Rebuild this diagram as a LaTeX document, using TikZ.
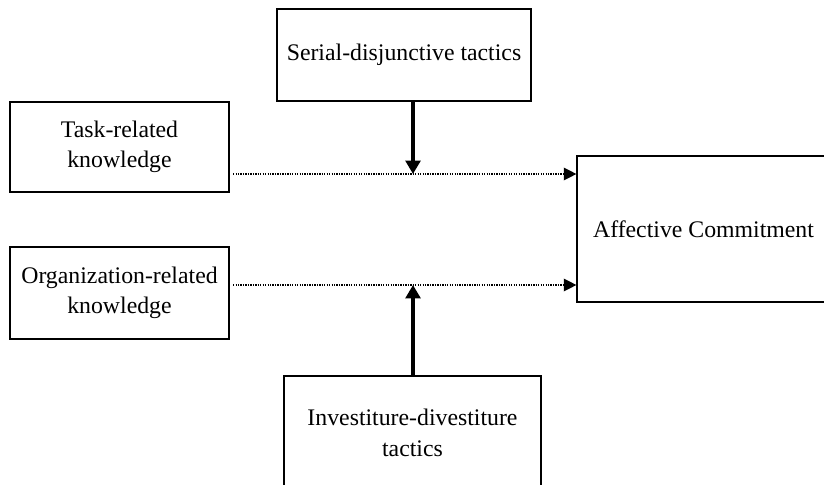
\documentclass[tikz,border=0pt]{standalone}
\usepackage{fontspec}
\setmainfont{Liberation Serif}
\usetikzlibrary{arrows.meta}
\tikzset{
  box/.style={draw, rectangle, line width=1pt, align=center, font=\fontsize{20.3}{26}\selectfont},
  link/.style={line width=1.1pt, dash pattern=on 1.1pt off 1pt, -{Triangle[length=3.8mm,width=3.8mm]}},
  moderator/.style={line width=4pt, -{Triangle[length=4mm,width=4.4mm]}}
}
\begin{document}
\begin{tikzpicture}[x=0.03cm, y=-0.03cm]
    \useasboundingbox (0,0) rectangle (824,485);
    \clip (0,0) rectangle (824,485);
    % boxes
    \node[box, minimum width=7.62cm, minimum height=2.76cm] (serial) at (404,55) {Serial-disjunctive tactics};
    \node[box, minimum width=6.57cm, minimum height=2.7cm] (task) at (119.5,147) {Task-related\\knowledge};
    \node[box, minimum width=6.57cm, minimum height=2.76cm] (org) at (119.5,293) {Organization-related\\knowledge};
    \node[box, minimum width=7.59cm, minimum height=4.38cm] (aff) at (703.5,229) {Affective Commitment};
    \node[box, minimum width=7.71cm, minimum height=3.42cm] (inv) at (412.5,433) {Investiture-divestiture\\tactics};
    % meeting points on the dotted links
    \coordinate (upper) at (413,174);
    \coordinate (lower) at (413,285);
    \draw[link, shorten <=3pt] (task.east |- upper) -- (aff.west |- upper);
    \draw[link, shorten <=3pt] (org.east |- lower) -- (aff.west |- lower);
    \draw[moderator] (serial.south -| upper) -- (upper);
    \draw[moderator] (inv.north -| lower) -- (lower);
\end{tikzpicture}
\end{document}
